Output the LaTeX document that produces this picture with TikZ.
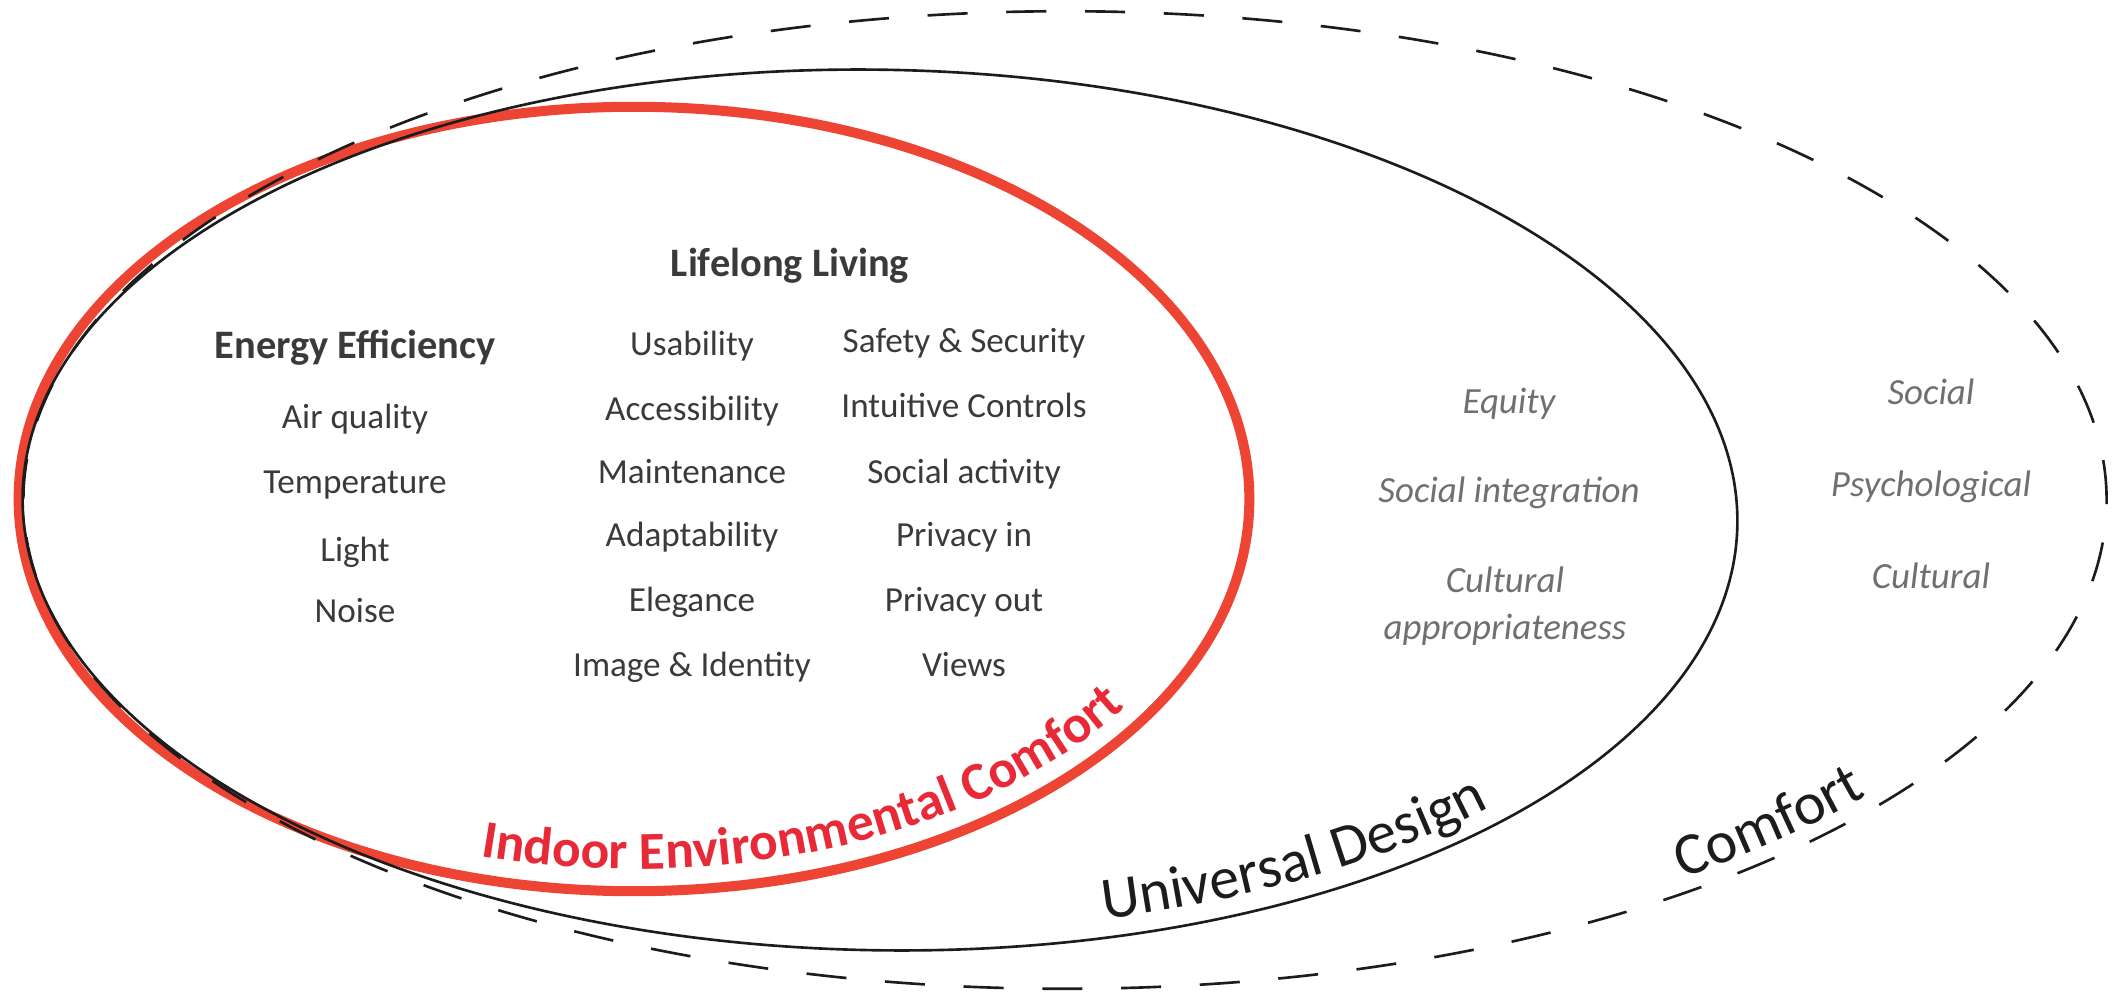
\documentclass[tikz,border=0pt]{standalone}
\usepackage{fontspec}
\setmainfont{Carlito}
\usetikzlibrary{decorations.text,calc}
\definecolor{iecred}{RGB}{238,68,52}
\definecolor{iectext}{RGB}{232,42,56}
\definecolor{bodygray}{RGB}{58,58,58}
\definecolor{softgray}{RGB}{112,112,112}
\definecolor{linegray}{RGB}{28,28,28}
\begin{document}
\begin{tikzpicture}[x=0.01cm,y=0.01cm,
  item/.style={anchor=base, text=bodygray, font=\fontsize{10}{12}\selectfont, inner sep=0pt},
  head/.style={anchor=base, text=bodygray, font=\fontsize{11.5}{14}\selectfont\bfseries, inner sep=0pt},
  soft/.style={anchor=base, text=softgray, font=\fontsize{10.5}{12.6}\selectfont\itshape, inner sep=0pt},
  ring/.style={draw=linegray, line width=0.75pt},
  dashring/.style={ring, dash pattern=on 11.4pt off 11pt},
  iecring/.style={draw=iecred, line width=2.85pt}]
\useasboundingbox (0,0) rectangle (2126,-994);
\coordinate (iecC) at (634,-499);
\coordinate (udC) at (880,-510);
\coordinate (cfC) at (1065,-500);
% rings
\path[iecring] (iecC) ellipse [x radius=6.15cm, y radius=3.92cm];
\path[ring, rotate around={-1:(udC)}] (udC) ellipse [x radius=8.57cm, y radius=4.40cm];
\path[dashring] (cfC) ellipse [x radius=10.41cm, y radius=4.885cm];
% curved labels
\path[decorate, decoration={text along path, text align=left,
  text={|\fontsize{15.2}{18}\selectfont\bfseries\color{iectext}|Indoor Environmental Comfort}}]
  ($(iecC)+(255:5.93cm and 3.70cm)$) arc[start angle=255, end angle=352, x radius=5.93cm, y radius=3.70cm];
\path[decorate, rotate around={-1:(udC)}, decoration={text along path, text align=left,
  text={|\fontsize{17}{20}\selectfont\color{linegray}|Universal Design}}]
  ($(udC)+(286:8.38cm and 4.21cm)$) arc[start angle=286, end angle=345, x radius=8.38cm, y radius=4.21cm];
\path[decorate, decoration={text along path, text align=left,
  text={|\fontsize{17}{20}\selectfont\color{linegray}|Comfort}}]
  ($(cfC)+(307:10.26cm and 4.73cm)$) arc[start angle=307, end angle=345, x radius=10.26cm, y radius=4.73cm];
% headings
\node[head] (lifelong) at (790,-277) {Lifelong Living};
\node[head] (energy) at (355,-359) {Energy Efficiency};
% energy column
\node[item] (air) at (355,-429) {Air quality};
\node[item] (temp) at (355,-494) {Temperature};
\node[item] (light) at (355,-561) {Light};
\node[item] (noise) at (355,-623) {Noise};
% lifelong column 1
\node[item] (usab) at (692,-356) {Usability};
\node[item] (access) at (692,-420) {Accessibility};
\node[item] (maint) at (692,-483) {Maintenance};
\node[item] (adapt) at (692,-547) {Adaptability};
\node[item] (eleg) at (692,-611) {Elegance};
\node[item] (image) at (692,-676) {Image \& Identity};
% lifelong column 2
\node[item] (safety) at (964,-353) {Safety \& Security};
\node[item] (intui) at (964,-417) {Intuitive Controls};
\node[item] (socact) at (964,-483) {Social activity};
\node[item] (privin) at (964,-547) {Privacy in};
\node[item] (privout) at (964,-611) {Privacy out};
\node[item] (views) at (964,-676) {Views};
% universal design items
\node[soft] (equity) at (1509,-413) {Equity};
\node[soft] (socint) at (1509,-502) {Social integration};
\node[soft] (cult1) at (1505,-593) {Cultural};
\node[soft] (approp) at (1505,-639) {appropriateness};
% comfort items
\node[soft] (social) at (1931,-405) {Social};
\node[soft] (psych) at (1931,-496) {Psychological};
\node[soft] (cult2) at (1931,-588) {Cultural};
\end{tikzpicture}
\end{document}
